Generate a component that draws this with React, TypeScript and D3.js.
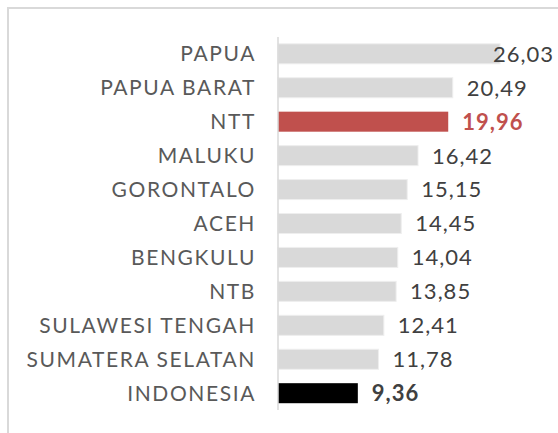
import React, { useEffect, useRef } from 'react';
import * as d3 from 'd3';

// data
const categories = [
  'PAPUA', 'PAPUA BARAT', 'NTT', 'MALUKU', 'GORONTALO', 'ACEH',
  'BENGKULU', 'NTB', 'SULAWESI TENGAH', 'SUMATERA SELATAN', 'INDONESIA',
];
const values = [26.03, 20.49, 19.96, 16.42, 15.15, 14.45, 14.04, 13.85, 12.41, 11.78, 9.36];
const highlight: Record<string, string> = { NTT: '#c0504d', INDONESIA: '#000000' };

const App = () => {
  const ref = useRef<SVGSVGElement>(null);

  useEffect(() => {
    const svg = d3.select(ref.current);
    svg.selectAll('*').remove();

    const W = 558, H = 433;
    const x0 = 278, top = 37, bottom = 410;
    const labelFont = 'Lato, "Open Sans", sans-serif';

    // frame
    svg.append('rect')
      .attr('x', 8).attr('y', 8).attr('width', W + 20).attr('height', H + 20)
      .attr('fill', 'white').attr('stroke', '#d9d9d9').attr('stroke-width', 2);

    const x = d3.scaleLinear().domain([0, 26.03]).range([x0, 500]);
    const y = d3.scaleBand<string>().domain(categories).range([top, bottom]).paddingInner(0.41).paddingOuter(0.2);

    const g = svg.append('g');

    g.selectAll('.bar')
      .data(categories)
      .enter().append('rect')
      .attr('x', x0)
      .attr('y', d => y(d)!)
      .attr('width', (d, i) => x(values[i]) - x0)
      .attr('height', y.bandwidth())
      .attr('fill', d => highlight[d] || '#d9d9d9')
      .attr('stroke', d => highlight[d] ? 'none' : '#eeeeee')
      .attr('stroke-width', 1);

    // axis line
    g.append('line')
      .attr('x1', x0).attr('x2', x0).attr('y1', top).attr('y2', bottom)
      .attr('stroke', '#d9d9d9').attr('stroke-width', 1.5);

    // category labels
    g.selectAll('.cat')
      .data(categories)
      .enter().append('text')
      .attr('x', 256)
      .attr('y', d => y(d)! + y.bandwidth() / 2)
      .attr('dy', '0.36em')
      .attr('text-anchor', 'end')
      .style('font-family', labelFont)
      .style('font-size', '21px')
      .style('letter-spacing', '1.6px')
      .attr('fill', '#595959')
      .text(d => d);

    // value labels
    const fmt = (v: number) => d3.format('.2f')(v).replace('.', ',');
    const labelW = 62;
    g.selectAll('.val')
      .data(categories)
      .enter().append('text')
      .attr('x', (d, i) => Math.min(x(values[i]) + 14, 555 - labelW))
      .attr('y', d => y(d)! + y.bandwidth() / 2)
      .attr('dy', '0.36em')
      .style('font-family', labelFont)
      .style('font-size', '22px')
      .style('letter-spacing', '1px')
      .style('font-weight', d => highlight[d] ? 'bold' : 'normal')
      .attr('fill', d => d === 'NTT' ? '#c0504d' : '#404040')
      .text((d, i) => fmt(values[i]));
  }, []);

  return (
    <svg ref={ref} width={558} height={433}
      style={{ position: 'absolute', left: 0, top: 0, display: 'block' }} />
  );
};

export default App;
